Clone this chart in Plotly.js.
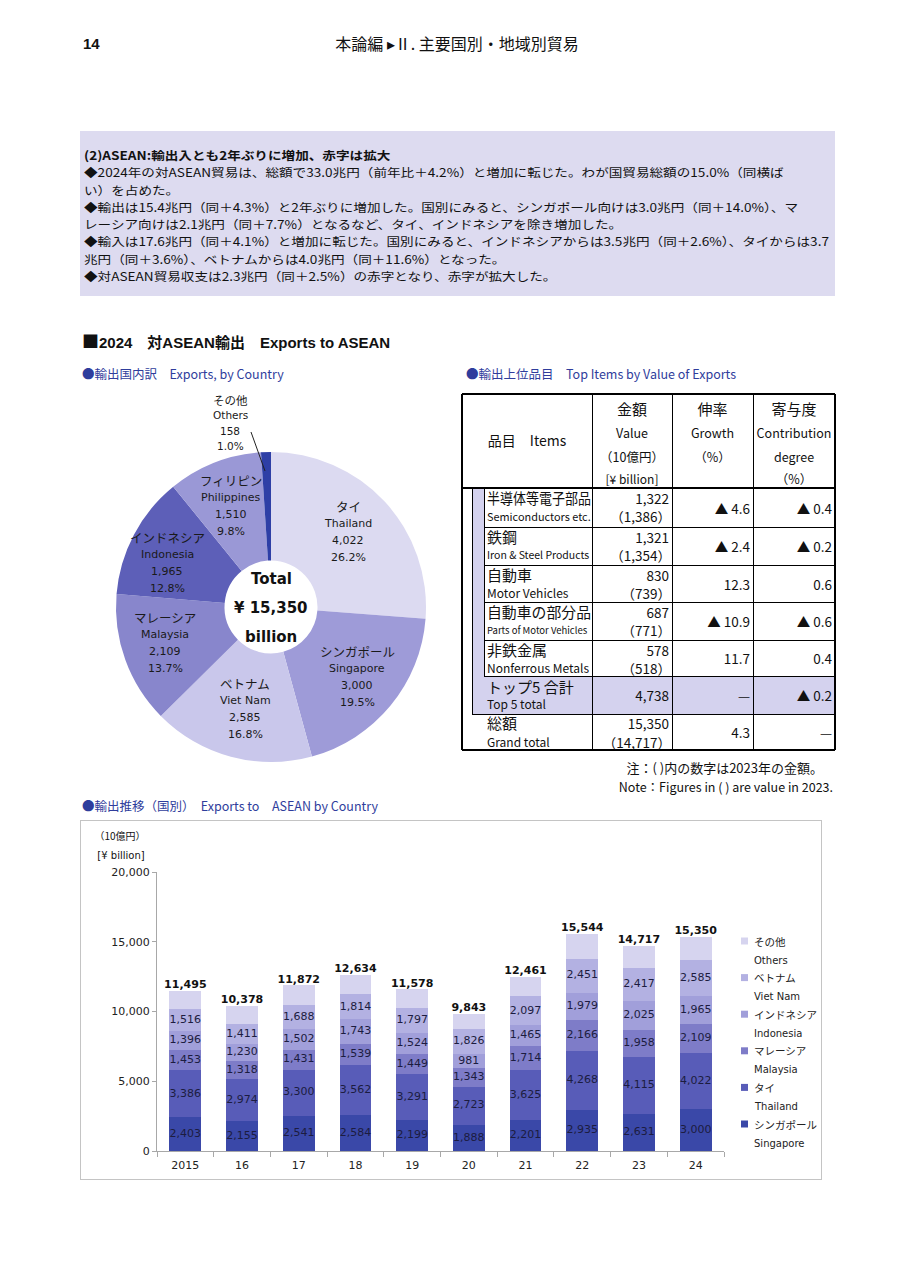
<!DOCTYPE html>
<html><head><meta charset="utf-8">
<script src="https://cdn.plot.ly/plotly-3.0.1.min.js"></script>
<style>
body{margin:0;width:916px;height:1280px;position:relative;background:#fff;font-family:"Noto Sans CJK JP",sans-serif;color:#111;overflow:hidden}
.abs{position:absolute;white-space:nowrap;line-height:1.1}
#txtbox div{white-space:nowrap;height:17.3px;line-height:17.3px}
</style></head><body>
<div id="pie" style="position:absolute;left:76px;top:385px;width:390px;height:400px"></div>
<div style="position:absolute;left:80px;top:820px;width:742px;height:360px;border:1px solid #c4c4c4;box-sizing:border-box"></div>
<div id="bar" style="position:absolute;left:80px;top:820px;width:742px;height:360px"></div>
<script>
// ---------- DATA ----------
const pieJP=['タイ','シンガポール','ベトナム','マレーシア','インドネシア','フィリピン','その他'];
const pieEN=['Thailand','Singapore','Viet Nam','Malaysia','Indonesia','Philippines','Others'];
const pieVal=[4022,3000,2585,2109,1965,1510,158];
const piePct=['26.2%','19.5%','16.8%','13.7%','12.8%','9.8%','1.0%'];
const pieTotal=15350;

const itemJP=['半導体等電子部品','鉄鋼','自動車','自動車の部分品','非鉄金属'];
const itemEN=['Semiconductors etc.','Iron & Steel Products','Motor Vehicles','Parts of Motor Vehicles','Nonferrous Metals'];
const itemVal=[1322,1321,830,687,578];
const itemPrev=[1386,1354,739,771,518];
const itemGrowth=['▲ 4.6','▲ 2.4','12.3','▲ 10.9','11.7'];
const itemContrib=['▲ 0.4','▲ 0.2','0.6','▲ 0.6','0.4'];
const top5Val=4738, top5Growth='—', top5Contrib='▲ 0.2';
const grandVal=15350, grandPrev=14717, grandGrowth='4.3', grandContrib='—';

const years=['2015','16','17','18','19','20','21','22','23','24'];
const sgp=[2403,2155,2541,2584,2199,1888,2201,2935,2631,3000];
const tha=[3386,2974,3300,3562,3291,2723,3625,4268,4115,4022];
const mys=[1453,1318,1431,1539,1449,1343,1714,2166,1958,2109];
const idn=[1396,1230,1502,1743,1524,981,1465,1979,2025,1965];
const vnm=[1516,1411,1688,1814,1797,1826,2097,2451,2417,2585];
const oth=[1341,1290,1410,1392,1318,1082,1359,1745,1571,1669];
const totals=[11495,10378,11872,12634,11578,9843,12461,15544,14717,15350];

const fmt=n=>n.toLocaleString('en-US');

// ---------- HTML helpers ----------
function T(s,x,y,o={}){
  const d=document.createElement('div');d.className='abs';
  if(o.html)d.innerHTML=s;else d.textContent=s;
  d.style.left=x+'px';d.style.top=y+'px';d.style.fontSize=(o.size||13)+'px';
  d.style.fontWeight=o.bold?'700':'400';d.style.color=o.color||'#111';
  d.style.fontFamily=o.family||'"Noto Sans CJK JP",sans-serif';
  const a=o.align||'left';const tx=a==='left'?'0':(a==='right'?'-100%':'-50%');
  d.style.transformOrigin=a==='left'?'left center':(a==='right'?'right center':'center center');
  d.style.transform=`translate(${tx},-50%)`;
  document.body.appendChild(d);
  if(o.maxW){const w=d.offsetWidth;if(w>o.maxW){d.style.transform=`translate(${tx},-50%) scaleX(${o.maxW/w})`;}}
  return d;
}
function R(x,y,w,h,bg){const d=document.createElement('div');d.style.cssText=`position:absolute;left:${x}px;top:${y}px;width:${w}px;height:${h}px;background:${bg}`;document.body.appendChild(d);return d;}
function HL(x1,x2,y,t,c){R(x1,y-(t||1)/2,x2-x1,t||1,c||'#000');}
function VL(x,y1,y2,t,c){R(x-(t||1)/2,y1,t||1,y2-y1,c||'#000');}

// ---------- header ----------
T('14',83,44,{size:15,bold:true,family:'"Liberation Sans Narrow","Liberation Sans",sans-serif'});
T('本論編 ▸Ⅱ. 主要国別・地域別貿易',457,44,{size:16,align:'center'});

// ---------- text box ----------
R(80,131,755,165,'#dddbf0');
const boxLines=[
 ['(2)ASEAN:輸出入とも2年ぶりに増加、赤字は拡大',true],
 ['◆2024年の対ASEAN貿易は、総額で33.0兆円（前年比＋4.2%）と増加に転じた。わが国貿易総額の15.0%（同横ば',false],
 ['い）を占めた。',false],
 ['◆輸出は15.4兆円（同＋4.3%）と2年ぶりに増加した。国別にみると、シンガポール向けは3.0兆円（同＋14.0%）、マ',false],
 ['レーシア向けは2.1兆円（同＋7.7%）となるなど、タイ、インドネシアを除き増加した。',false],
 ['◆輸入は17.6兆円（同＋4.1%）と増加に転じた。国別にみると、インドネシアからは3.5兆円（同＋2.6%）、タイからは3.7',false],
 ['兆円（同＋3.6%）、ベトナムからは4.0兆円（同＋11.6%）となった。',false],
 ['◆対ASEAN貿易収支は2.3兆円（同＋2.5%）の赤字となり、赤字が拡大した。',false]];
const tb=document.createElement('div');tb.id='txtbox';
tb.style.cssText='position:absolute;left:84px;top:146px;font-size:11.9px;color:#111;font-family:"Noto Sans CJK JP",sans-serif;transform-origin:left top;';
boxLines.forEach(([s,b])=>{const d=document.createElement('div');d.textContent=s;if(b){d.style.fontWeight='700';}tb.appendChild(d);});
document.body.appendChild(tb);
{const ref=tb.children[5];const r=document.createRange();r.selectNodeContents(ref);const w=r.getBoundingClientRect().width;tb.style.transform=`scaleX(${745/w})`;}

// ---------- section titles ----------
T('<span style="font-family:\'Noto Sans CJK JP\';font-size:17px">■</span>2024　対ASEAN輸出　Exports to ASEAN',82,342,{html:true,size:15,bold:true,family:'"Liberation Sans","Noto Sans CJK JP",sans-serif'});
const blue='#2f3d9c';
T('●輸出国内訳　Exports, by Country',82,374,{size:12.5,color:blue});
T('●輸出上位品目　Top Items by Value of Exports',466,374,{size:12.5,color:blue});
T('●輸出推移（国別）　Exports to　ASEAN by Country',82,806,{size:12.5,color:blue});

// ---------- table ----------
const X0=462,X1=592,X2=672,X3=753,X4=835,YT=394,YH=488;
const rowY=[488,527,565,602,640,676,714,750];
const lav='#d4d2ee';
R(472,YH,12,rowY[6]-YH,lav);
R(472,rowY[5],X4-472,rowY[6]-rowY[5],lav);
HL(X0,X4,YT,2);HL(X0,X4,750,2);VL(X0,YT,750,2);VL(X4,YT,750,2);
VL(X1,YT,750);VL(X2,YT,750);VL(X3,YT,750);
HL(X0,X4,YH,1.5);
for(let i=1;i<=5;i++){HL(X1,X4,rowY[i]);HL(484,X1,rowY[i]);}
HL(472,X4,rowY[6]);
VL(472,YH,rowY[6]);VL(484,YH,rowY[5]);
const hc=(a,b)=>(a+b)/2;
T('品目　Items',hc(X0,X1),441,{size:14,align:'center'});
T('金額',hc(X1,X2),409,{size:15,align:'center'});
T('Value',hc(X1,X2),433,{size:12.5,align:'center'});
T('（10億円）',hc(X1,X2),457,{size:12.5,align:'center'});
T('[¥ billion]',hc(X1,X2),479,{size:12,align:'center'});
T('伸率',hc(X2,X3),409,{size:15,align:'center'});
T('Growth',hc(X2,X3),433,{size:12.5,align:'center'});
T('（%）',hc(X2,X3),457,{size:12.5,align:'center'});
T('寄与度',hc(X3,X4),409,{size:15,align:'center'});
T('Contribution',hc(X3,X4),433,{size:12.5,align:'center'});
T('degree',hc(X3,X4),457,{size:12.5,align:'center'});
T('（%）',hc(X3,X4),479,{size:12.5,align:'center'});
const enSize=[11,10.5,12,9.5,12];
for(let i=0;i<5;i++){
  const t=rowY[i],b=rowY[i+1],m=(t+b)/2;
  T(itemJP[i],487,t+10,{size:15,maxW:104});
  T(itemEN[i],487,t+28,{size:enSize[i],maxW:104});
  T(fmt(itemVal[i]),X2-3,t+10,{size:13.5,align:'right'});
  T('（'+fmt(itemPrev[i])+'）',X2-1,t+28,{size:13.5,align:'right'});
  T(itemGrowth[i],X3-3,m,{size:13.5,align:'right'});
  T(itemContrib[i],X4-3,m,{size:13.5,align:'right'});
}
{const t=rowY[5],b=rowY[6],m=(t+b)/2;
 T('トップ5 合計',487,t+11,{size:15});T('Top 5 total',487,t+28,{size:12});
 T(fmt(top5Val),X2-3,m,{size:13.5,align:'right'});T(top5Growth,X3-3,m,{size:13.5,align:'right'});T(top5Contrib,X4-3,m,{size:13.5,align:'right'});}
{const t=rowY[6],b=rowY[7],m=(t+b)/2;
 T('総額',487,t+9,{size:15});T('Grand total',487,t+28,{size:12});
 T(fmt(grandVal),X2-3,t+9,{size:13.5,align:'right'});T('（'+fmt(grandPrev)+'）',X2-1,t+28,{size:13.5,align:'right'});
 T(grandGrowth,X3-3,m,{size:13.5,align:'right'});T(grandContrib,X4-3,m,{size:13.5,align:'right'});}
T('注：( )内の数字は2023年の金額。',823,768,{size:13,align:'right'});
T('Note：Figures in ( ) are value in 2023.',833,787,{size:12.5,align:'right'});

T('（10億円）',120,835,{size:10,align:'center'});
T('[¥ billion]',121,855,{size:10,align:'center',family:'"DejaVu Sans",sans-serif'});

// ---------- PIE ----------
const pieColors=['#dcdaf1','#9e9bd8','#c9c7eb','#8886cc','#5d5fb8','#9a98d6','#2e3fa6'];
const PL=116,PT=452,PS=310;
const px=X=>(X-PL)/PS, py=Y=>(PT+PS-Y)/PS;
const labelPos=[[348,532],[357,677],[245,709],[165,643],[167,563],[231,506],[230,423]];
const pann=[];
const latin='"DejaVu Sans","Noto Sans CJK JP",sans-serif';
pieJP.forEach((jp,i)=>{
  const [cx,cy]=labelPos[i];const sp=i===6?15.3:17;
  const lines=[jp,pieEN[i],fmt(pieVal[i]),piePct[i]];
  lines.forEach((s,k)=>{
    const y=cy+(k-1.5)*sp;
    pann.push({x:px(cx),y:py(y),xref:'paper',yref:'paper',text:s,showarrow:false,xanchor:'center',yanchor:'middle',
      font:{family:k===0?'"Noto Sans CJK JP",sans-serif':latin,size:k===0?(i===6?11.5:12.5):(i===6?10.5:11),color:'#1a1a1a'}});
  });
});
['Total','¥ '+fmt(pieTotal),'billion'].forEach((s,k)=>{
  pann.push({x:px(271),y:py(579+k*29),xref:'paper',yref:'paper',text:'<b>'+s+'</b>',showarrow:false,xanchor:'center',yanchor:'middle',
    font:{family:latin,size:15,color:'#111'}});
});
Plotly.newPlot('pie',[{type:'pie',values:pieVal,labels:pieEN,sort:false,direction:'clockwise',rotation:0,hole:0.3,
  textinfo:'none',hoverinfo:'skip',marker:{colors:pieColors,line:{width:0}},showlegend:false}],
  {width:390,height:400,margin:{l:40,r:40,t:67,b:23},paper_bgcolor:'rgba(0,0,0,0)',showlegend:false,annotations:pann,
   shapes:[{type:'line',xref:'paper',yref:'paper',x0:px(251),y0:py(432),x1:px(265),y1:py(471),line:{color:'#222',width:1}}]},
  {staticPlot:true,displayModeBar:false});

// ---------- BAR ----------
const series=[
 {jp:'シンガポール',en:'Singapore',v:sgp,c:'#3a48a8',lab:true},
 {jp:'タイ',en:'Thailand',v:tha,c:'#585cb8',lab:true},
 {jp:'マレーシア',en:'Malaysia',v:mys,c:'#7e7cc8',lab:true},
 {jp:'インドネシア',en:'Indonesia',v:idn,c:'#a19fda',lab:true},
 {jp:'ベトナム',en:'Viet Nam',v:vnm,c:'#b3b1e2',lab:true},
 {jp:'その他',en:'Others',v:oth,c:'#d6d4ef',lab:false}];
const traces=[];const base=years.map(()=>0);
const txtTraces=[];
series.forEach((s,si)=>{
  traces.push({type:'bar',x:years,y:s.v,name:s.jp+' '+s.en,marker:{color:s.c,line:{width:0}},hoverinfo:'skip'});
  if(s.lab){
    txtTraces.push({type:'scatter',mode:'text',x:years,y:s.v.map((v,i)=>base[i]+v/2),text:s.v.map(fmt),
      textfont:{family:latin,size:11,color:'#1c1c40'},cliponaxis:false,showlegend:false,hoverinfo:'skip'});
  }
  s.v.forEach((v,i)=>base[i]+=v);
});
txtTraces.push({type:'scatter',mode:'text',x:years,y:totals,text:totals.map(v=>'<b>'+fmt(v)+'</b>'),textposition:'top center',
  textfont:{family:latin,size:11,color:'#111'},cliponaxis:false,showlegend:false,hoverinfo:'skip'});
// custom legend (top: Others ... bottom: Singapore)
const BPL=157,BPW=567,BPB=1151,BPH=279;
const bx=X=>(X-BPL)/BPW, by=Y=>(BPB-Y)/BPH;
const legAnn=[],legShapes=[];
series.slice().reverse().forEach((s,k)=>{
  const y0=941+k*36.6;
  legShapes.push({type:'rect',xref:'paper',yref:'paper',x0:bx(741),x1:bx(748),y0:by(y0+3.5),y1:by(y0-3.5),fillcolor:s.c,line:{width:0}});
  legAnn.push({x:bx(752),y:by(y0),xref:'paper',yref:'paper',text:s.jp,showarrow:false,xanchor:'left',yanchor:'middle',font:{family:'"Noto Sans CJK JP",sans-serif',size:10.5,color:'#222'}});
  legAnn.push({x:bx(752),y:by(y0+19),xref:'paper',yref:'paper',text:s.en,showarrow:false,xanchor:'left',yanchor:'middle',font:{family:latin,size:10,color:'#222'}});
});
Plotly.newPlot('bar',traces.concat(txtTraces),{
  width:742,height:360,margin:{l:77,r:98,t:52,b:29},barmode:'stack',bargap:0.44,
  paper_bgcolor:'rgba(0,0,0,0)',plot_bgcolor:'rgba(0,0,0,0)',
  font:{family:latin,size:11,color:'#222'},showlegend:false,
  xaxis:{type:'category',categoryorder:'array',categoryarray:years,showline:true,linecolor:'#a8a8a8',ticks:'outside',tickson:'boundaries',ticklen:5,tickcolor:'#a8a8a8',showgrid:false,ticklabelstandoff:4,tickfont:{family:latin,size:11,color:'#222'}},
  yaxis:{range:[0,20000],tickvals:[0,5000,10000,15000,20000],tickformat:',',showline:true,linecolor:'#a8a8a8',ticks:'outside',ticklen:4,tickcolor:'#a8a8a8',showgrid:false,zeroline:false,tickfont:{family:latin,size:11,color:'#222'}},
  annotations:legAnn,shapes:legShapes
},{staticPlot:true,displayModeBar:false});
</script>
</body></html>
